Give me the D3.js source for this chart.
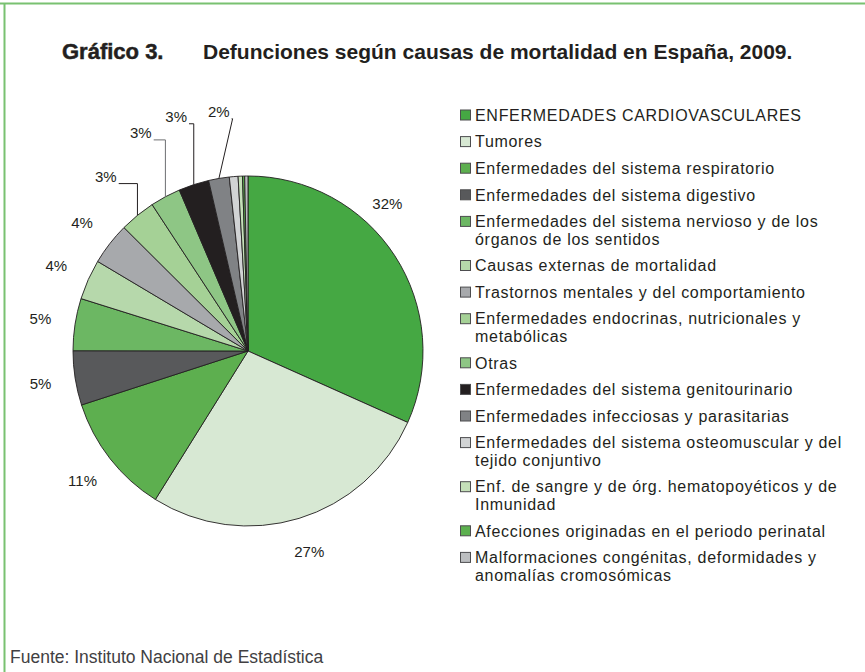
<!DOCTYPE html>
<html>
<head>
<meta charset="utf-8">
<script src="https://cdn.jsdelivr.net/npm/d3@7"></script>
<style>
  body { margin: 0; background: #fff; }
  svg { display: block; font-family: "Liberation Sans", Arial, sans-serif; }
</style>
</head>
<body>
<div id="chart"></div>
<script>
// causas de muerte (orden del gráfico, sentido horario desde las 12)
const causes = [
  "ENFERMEDADES CARDIOVASCULARES",
  "Tumores",
  "Enfermedades del sistema respiratorio",
  "Enfermedades del sistema digestivo",
  "Enfermedades del sistema nervioso y de los\nórganos de los sentidos",
  "Causas externas de mortalidad",
  "Trastornos mentales y del comportamiento",
  "Enfermedades endocrinas, nutricionales y\nmetabólicas",
  "Otras",
  "Enfermedades del sistema genitourinario",
  "Enfermedades infecciosas y parasitarias",
  "Enfermedades del sistema osteomuscular y del\ntejido conjuntivo",
  "Enf. de sangre y de órg. hematopoyéticos y de\nInmunidad",
  "Afecciones originadas en el periodo perinatal",
  "Malformaciones congénitas, deformidades y\nanomalías cromosómicas"
];
// porcentaje de defunciones (aprox.)
const shares = [31.6, 27.1, 11.1, 5.0, 4.8, 3.7, 3.9, 3.3, 2.8, 2.8, 1.9, 0.8, 0.4, 0.2, 0.3];
const colors = ["#45a843", "#d7e8d3", "#5daf4f", "#58595b", "#6cb763", "#b6d8ab",
                "#a7a9ac", "#a5d196", "#8ec685", "#231f20", "#808285", "#d1d3d4",
                "#c5e0b9", "#5cb04f", "#bcbec0"];

const W = 865, H = 672;
const cx = 248, cy = 351, R = 175;

const svg = d3.select("#chart").append("svg").attr("width", W).attr("height", H);

// marco verde
svg.append("line").attr("x1", 0).attr("x2", W).attr("y1", 3.5).attr("y2", 3.5)
  .attr("stroke", "#79c171").attr("stroke-width", 2);
svg.append("line").attr("x1", 4.5).attr("x2", 4.5).attr("y1", 3).attr("y2", H)
  .attr("stroke", "#79c171").attr("stroke-width", 2);

// titulo
const title = svg.append("text").attr("x", 62).attr("y", 59)
  .attr("font-weight", "bold").attr("fill", "#231f20");
title.append("tspan").attr("font-size", 22).text("Gráfico 3.")
  .attr("stroke", "#231f20").attr("stroke-width", 0.5);
title.append("tspan").attr("x", 203).attr("font-size", 21)
  .text("Defunciones según causas de mortalidad en España, 2009.");

const data = causes.map((c, i) => ({ cause: c, value: shares[i], color: colors[i] }));
const total = d3.sum(shares);

const pie = d3.pie().sort(null).value(d => d.value);
const arc = d3.arc().innerRadius(0).outerRadius(R);
const arcs = pie(data);

const g = svg.append("g").attr("transform", `translate(${cx},${cy})`);

g.selectAll("path.slice")
  .data(arcs)
  .enter()
  .append("path")
  .attr("class", "slice")
  .attr("d", arc)
  .attr("fill", d => d.data.color)
  .attr("stroke", "#231f20")
  .attr("stroke-width", 0.9)
  .attr("stroke-linejoin", "round");

// etiquetas de porcentaje
const labelDist = 210;
const tweak = { 0: { r: 203, da: -13.7 } };
// etiquetas con linea guia (porciones pequeñas de arriba)
const leaders = { 7: { r: 225, da: 0 }, 8: { r: 243, da: 2 }, 9: { r: 245, da: 1 }, 10: { r: 241, da: 2.6 } };

const toRad = Math.PI / 180;
function polar(a, r) { return [Math.sin(a) * r, -Math.cos(a) * r]; }

arcs.forEach((d, i) => {
  const pct = Math.round(d.data.value / total * 100);
  if (pct < 2) return;
  const mid = (d.startAngle + d.endAngle) / 2;
  let lay = leaders[i] || tweak[i] || { r: labelDist, da: 0 };
  const [tx, ty] = polar(mid + lay.da * toRad, lay.r);
  const t = g.append("text")
    .attr("x", tx).attr("y", ty).attr("dy", "0.36em")
    .attr("text-anchor", "middle")
    .attr("font-size", 15).attr("fill", "#231f20")
    .text(pct + "%");
  if (leaders[i]) {
    const w = t.node().getComputedTextLength();
    const [ax, ay] = polar(mid, R);
    const x0 = tx + w / 2 + 2;
    const ly = ty + 7;
    const ex = Math.max(ax, x0 + 1);
    g.append("path")
      .attr("d", `M${x0},${ly}H${ex}L${ax},${ay}`)
      .attr("fill", "none")
      .attr("stroke", i === 8 ? "#6d6e71" : "#231f20")
      .attr("stroke-width", 1);
  }
});

// leyenda
const legend = svg.append("g").attr("transform", "translate(460,0)");
const rowStep = 26.6, lineStep = 17.5;
let y = 115;
data.forEach(d => {
  const lines = d.cause.split("\n");
  legend.append("rect")
    .attr("x", 0.5).attr("y", y - 5).attr("width", 10).attr("height", 10)
    .attr("fill", d.color).attr("stroke", "#4d4d4f").attr("stroke-width", 1);
  const t = legend.append("text").attr("font-size", 16).attr("letter-spacing", 0.7).attr("fill", "#231f20");
  lines.forEach((ln, k) => {
    t.append("tspan").attr("x", 15).attr("y", y + k * lineStep).attr("dy", "0.36em").text(ln);
  });
  y += rowStep + (lines.length - 1) * lineStep;
});

// fuente
svg.append("text").attr("x", 10).attr("y", 663)
  .attr("font-size", 17.5).attr("fill", "#414042")
  .text("Fuente: Instituto Nacional de Estadística");
</script>
</body>
</html>
